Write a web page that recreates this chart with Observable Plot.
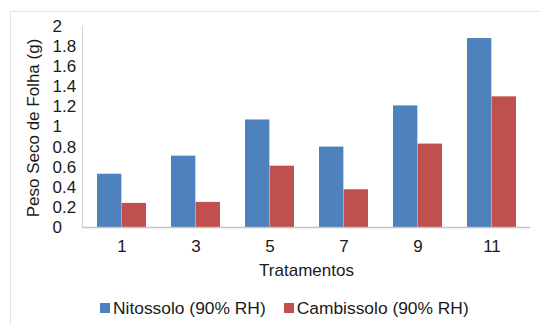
<!DOCTYPE html>
<html>
<head>
<meta charset="utf-8">
<script src="https://cdn.jsdelivr.net/npm/d3@7"></script>
<script src="https://cdn.jsdelivr.net/npm/@observablehq/plot@0.6"></script>
<style>
  html, body { margin: 0; padding: 0; background: #fff; }
  #wrap { position: relative; width: 540px; height: 324px; overflow: hidden; font-family: "Liberation Sans", Arial, sans-serif; color: #1a1a1a; }
  #border { position: absolute; left: 10px; top: 11px; width: 600px; height: 400px; border-left: 1px solid #e3e3e3; border-top: 1px solid #e3e3e3; }
  #chart { position: absolute; left: 0; top: 0; }
  #legend { position: absolute; left: 100px; top: 298px; display: flex; align-items: center; font-size: 17.4px; line-height: 20px; white-space: nowrap; }
  .sw { display: inline-block; width: 10px; height: 10px; margin-right: 3px; }
  .item { display: flex; align-items: center; margin-right: 18px; }
</style>
</head>
<body>
<div id="wrap">
  <div id="border"></div>
  <div id="chart"></div>
  <div id="legend"></div>
</div>
<script>
const treatments = ["1", "3", "5", "7", "9", "11"];
const seriesNames = ["Nitossolo (90% RH)", "Cambissolo (90% RH)"];
const nitossolo = [0.53, 0.71, 1.07, 0.80, 1.21, 1.88];
const cambissolo = [0.24, 0.25, 0.61, 0.375, 0.83, 1.30];
const yTicks = [0, 0.2, 0.4, 0.6, 0.8, 1, 1.2, 1.4, 1.6, 1.8, 2];
const colors = ["#4F81BD", "#C0504D"];

const dataN = treatments.map((t, i) => ({t, v: nitossolo[i]}));
const dataC = treatments.map((t, i) => ({t, v: cambissolo[i]}));

const width = 540, height = 284;
const mL = 82, mR = 10;
const step = (width - mL - mR) / treatments.length;
const bw = step * (1 - 0.34);
const fs = 17;
const ink = "#1a1a1a";

const chart = Plot.plot({
  width, height,
  marginLeft: mL, marginRight: mR, marginTop: 26, marginBottom: 57,
  style: {fontFamily: '"Liberation Sans", Arial, sans-serif', fontSize: "17px", color: ink, background: "transparent"},
  x: {domain: treatments, paddingInner: 0.34, paddingOuter: 0.17, label: null},
  y: {domain: [0, 2], label: null},
  marks: [
    Plot.barY(dataN, {x: "t", y: "v", fill: colors[0], insetRight: bw / 2, insetLeft: 0}),
    Plot.barY(dataC, {x: "t", y: "v", fill: colors[1], insetLeft: bw / 2, insetRight: 0}),
    Plot.frame({anchor: "left", stroke: "#d4d4d4"}),
    Plot.ruleY([0], {stroke: "#c4c4c4", strokeWidth: 1.5}),
    Plot.axisX({tickSize: 0, tickPadding: 12, label: null, fill: ink, fontSize: fs}),
    Plot.axisY({ticks: yTicks, tickFormat: d => String(d), tickSize: 0, tickPadding: 30, textAnchor: "start", label: null, fill: ink, fontSize: fs}),
    Plot.text(["Tratamentos"], {frameAnchor: "bottom", dy: 43, lineAnchor: "middle", text: d => d, fill: ink, fontSize: fs}),
    Plot.text(["Peso Seco de Folha (g)"], {frameAnchor: "left", dx: -49, dy: 1, rotate: -90, textAnchor: "middle", lineAnchor: "middle", text: d => d, fill: ink, fontSize: fs})
  ]
});
document.getElementById("chart").appendChild(chart);

const legend = document.getElementById("legend");
seriesNames.forEach((name, i) => {
  const item = document.createElement("span");
  item.className = "item";
  const sw = document.createElement("span");
  sw.className = "sw";
  sw.style.background = colors[i];
  item.appendChild(sw);
  item.appendChild(document.createTextNode(name));
  legend.appendChild(item);
});
</script>
</body>
</html>
